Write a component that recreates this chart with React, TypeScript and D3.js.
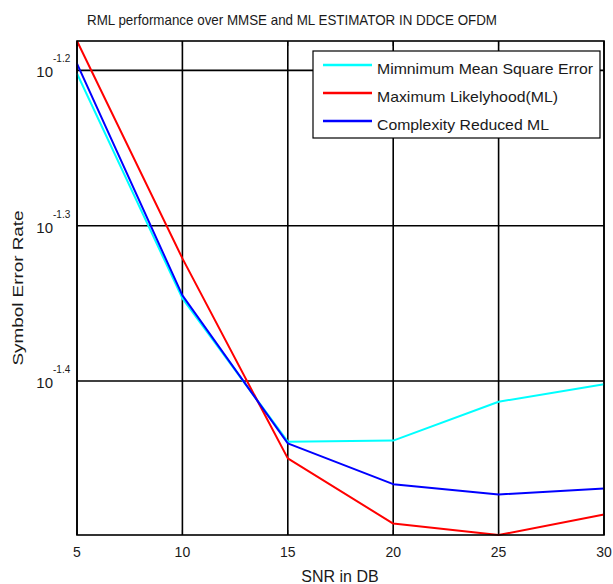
import React from "react";
import * as d3 from "d3";

const snr = [5, 10, 15, 20, 25, 30];
const mmse = [0.0628, 0.045, 0.03639, 0.03645, 0.03861, 0.03963];
const ml = [0.0659, 0.04775, 0.0355, 0.03223, 0.03169, 0.03267];
const crml = [0.06373, 0.0452, 0.0363, 0.03417, 0.03365, 0.03395];
const xTicks = [5, 10, 15, 20, 25, 30];
const yTickExps = [-1.2, -1.3, -1.4];
const seriesNames = ["Mimnimum Mean Square Error", "Maximum Likelyhood(ML)", "Complexity Reduced ML"];
const seriesColors = ["#00ffff", "#ff0000", "#0000ff"];
const legendWidths = [216, 181, 172];

const W = 613, H = 584;
const L = 77, R = 604, T = 41, B = 535;
const FONT = "'Liberation Sans', Arial, sans-serif";
const TXT = "#1a1a1a";

export default function App() {
  const all = [...mmse, ...ml, ...crml];
  const x = d3.scaleLinear().domain([5, 30]).range([L, R]);
  const y = d3.scaleLog().domain([d3.min(all) as number, d3.max(all) as number]).range([B, T]);
  const line = d3.line<number>().x((_, i) => x(snr[i])).y((d) => y(d));
  const series = [mmse, ml, crml];
  const legX = 313, legY = 51, legW = 287, legH = 87;
  const legRows = [65, 93, 121];

  return (
    <svg width={W} height={H} style={{ position: "absolute", left: 0, top: 0, background: "#fff" }}>
      <rect x={0} y={0} width={W} height={H} fill="#fff" />
      {/* grid */}
      {xTicks.map((t) => (
        <line key={"gx" + t} x1={x(t)} x2={x(t)} y1={T} y2={B} stroke="#000" strokeWidth={1.6} />
      ))}
      {yTickExps.map((e) => (
        <line key={"gy" + e} x1={L} x2={R} y1={y(Math.pow(10, e))} y2={y(Math.pow(10, e))} stroke="#000" strokeWidth={1.6} />
      ))}
      {/* ticks */}
      {xTicks.map((t) => (
        <g key={"tx" + t}>
          <line x1={x(t)} x2={x(t)} y1={B} y2={B - 5} stroke="#000" strokeWidth={1} />
          <line x1={x(t)} x2={x(t)} y1={T} y2={T + 5} stroke="#000" strokeWidth={1} />
        </g>
      ))}
      {/* series */}
      {series.map((s, i) => (
        <path key={"s" + i} d={line(s) as string} fill="none" stroke={seriesColors[i]} strokeWidth={2} strokeLinejoin="round" />
      ))}
      {/* axes box */}
      <rect x={L} y={T} width={R - L} height={B - T} fill="none" stroke="#000" strokeWidth={1.6} />
      {/* x tick labels */}
      {xTicks.map((t) => (
        <text key={"lx" + t} x={x(t)} y={557} textAnchor="middle" fontFamily={FONT} fontSize={14} fill={TXT}>
          {t}
        </text>
      ))}
      {/* y tick labels */}
      {yTickExps.map((e) => {
        const yy = y(Math.pow(10, e));
        return (
          <g key={"ly" + e}>
            <text x={53} y={yy + 7} textAnchor="end" fontFamily={FONT} fontSize={15} fill={TXT}>10</text>
            <text x={53} y={yy - 8} textAnchor="start" fontFamily={FONT} fontSize={10} fill={TXT}>{e.toFixed(1)}</text>
          </g>
        );
      })}
      {/* legend */}
      <rect x={legX} y={legY} width={legW} height={legH} fill="#fff" stroke="#000" strokeWidth={1.2} />
      {seriesNames.map((n, i) => (
        <g key={"lg" + i}>
          <line x1={323} x2={372} y1={legRows[i]} y2={legRows[i]} stroke={seriesColors[i]} strokeWidth={2.5} />
          <text x={377} y={legRows[i] + 9} fontFamily={FONT} fontSize={15} fill={TXT} textLength={legendWidths[i]} lengthAdjust="spacingAndGlyphs">
            {n}
          </text>
        </g>
      ))}
      {/* title */}
      <text x={87} y={25} fontFamily={FONT} fontSize={15} fill={TXT} textLength={410} lengthAdjust="spacingAndGlyphs">
        RML performance over MMSE and ML ESTIMATOR IN DDCE OFDM
      </text>
      {/* axis labels */}
      <text x={340} y={582} textAnchor="middle" fontFamily={FONT} fontSize={16} fill={TXT}>
        SNR in DB
      </text>
      <text
        transform={`translate(23, ${(T + B) / 2}) rotate(-90)`}
        textAnchor="middle"
        fontFamily={FONT}
        fontSize={15}
        fill={TXT}
        textLength={155}
        lengthAdjust="spacingAndGlyphs"
      >
        Symbol Error Rate
      </text>
    </svg>
  );
}
